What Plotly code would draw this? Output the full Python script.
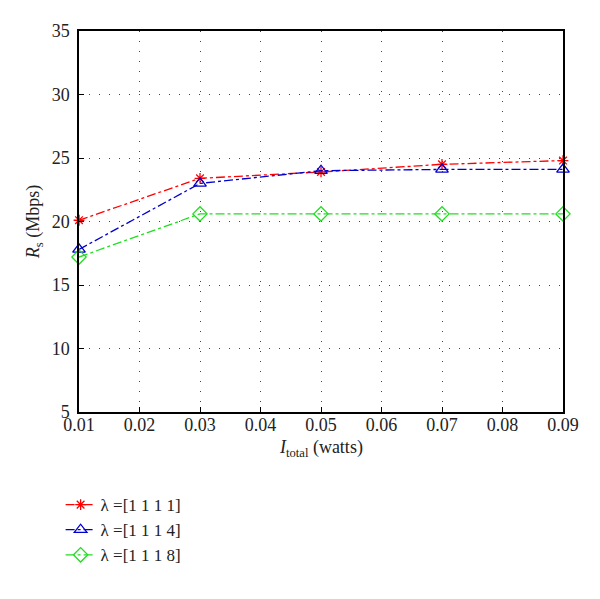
import plotly.graph_objects as go

x_vals = [0.01, 0.03, 0.05, 0.07, 0.09]
rs_1111 = [20.1, 23.4, 23.9, 24.5, 24.8]
rs_1114 = [17.8, 23.0, 24.0, 24.1, 24.1]
rs_1118 = [17.2, 20.6, 20.6, 20.6, 20.6]
names = ["λ =[1 1 1 1]", "λ =[1 1 1 4]", "λ =[1 1 1 8]"]
x_ticks = [0.01, 0.02, 0.03, 0.04, 0.05, 0.06, 0.07, 0.08, 0.09]
y_ticks = [5, 10, 15, 20, 25, 30, 35]

series = [
    (rs_1111, names[0], "#ff0000", "asterisk-open", 9),
    (rs_1114, names[1], "#0000cc", "triangle-up-open", 11),
    (rs_1118, names[2], "#22dd22", "diamond-open", 11),
]

fig = go.Figure()
for ys, nm, col, sym, sz in series:
    fig.add_trace(go.Scatter(
        x=x_vals, y=ys, name=nm, mode="lines+markers",
        line=dict(color=col, width=1.3, dash="dashdot"),
        marker=dict(symbol=sym, size=sz, color=col, line=dict(color=col, width=1.3)),
        cliponaxis=False,
    ))

font_family = "Liberation Serif, Times New Roman, serif"
fig.update_layout(
    width=600, height=599,
    margin=dict(l=71, r=45, t=23, b=195),
    plot_bgcolor="white", paper_bgcolor="white",
    font=dict(family=font_family, size=18, color="#222"),
    showlegend=True,
    legend=dict(x=-0.038, y=-0.197, xanchor="left", yanchor="top",
                bgcolor="rgba(0,0,0,0)", font=dict(family=font_family, size=17),
                tracegroupgap=0, itemwidth=30),
    xaxis=dict(
        range=[0.01, 0.09], tickvals=x_ticks,
        ticktext=[f"{v:.2f}" for v in x_ticks],
        showgrid=True, gridcolor="#444", griddash="1px,9px", gridwidth=1,
        showline=True, linecolor="black", linewidth=1.5, mirror=True,
        ticks="inside", ticklen=5, tickcolor="black",
        zeroline=False, automargin=False,
        tickfont=dict(size=18), ticklabelstandoff=-4,
    ),
    yaxis=dict(
        range=[5, 35], tickvals=y_ticks,
        showgrid=True, gridcolor="#444", griddash="1px,9px", gridwidth=1,
        showline=True, linecolor="black", linewidth=1.5, mirror=True,
        ticks="inside", ticklen=5, tickcolor="black",
        zeroline=False, automargin=False,
        tickfont=dict(size=18), ticklabelstandoff=4,
        title=dict(text="<i>R</i><sub>s</sub> (Mbps)", standoff=7, font=dict(size=18)),
    ),
    annotations=[dict(
        text="<i>I</i><sub>total</sub> (watts)", xref="paper", yref="paper",
        x=0.5, y=-0.097, xanchor="center", yanchor="middle", showarrow=False,
        font=dict(family=font_family, size=18, color="#222"),
    )],
)

fig.write_html("out.html")
